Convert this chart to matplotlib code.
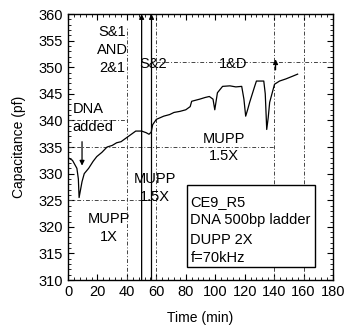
import matplotlib
matplotlib.use("Agg")
import matplotlib.pyplot as plt
from matplotlib.patches import Rectangle
from matplotlib.ticker import MultipleLocator

plt.rcParams['font.family'] = ['Liberation Sans', 'DejaVu Sans']

time_min = [0, 3, 6, 7, 7.5, 8.5, 9.5, 11, 14, 17, 19.5, 23, 26.5, 30, 33, 36, 40,
            43, 46, 50, 53, 55, 56.5, 57.5, 60, 65, 69, 72, 76, 80, 83, 84, 89.5,
            93, 96, 98.5, 99.7, 101.5, 105, 110, 114, 118, 119.5, 120.7, 122,
            123.4, 126.8, 128, 133, 134, 135, 136, 137, 140.3, 143.7, 148, 152.5, 156]
capacitance = [333, 332.5, 331, 329, 325.5, 327, 328.5, 330, 331, 332.3, 333.2, 334,
               335, 335.3, 335.8, 336, 336.8, 337.4, 338, 338, 337.7, 337.4, 337.8,
               339.2, 340.2, 340.8, 341.1, 341.5, 341.7, 342, 342.6, 343.6, 344,
               344.3, 344.5, 344, 342, 345.2, 346.4, 346.5, 346.3, 346.4, 344, 340.8,
               342, 343.4, 346.4, 347.4, 347.4, 345, 338.3, 340.5, 343.4, 346.8,
               347.4, 347.8, 348.3, 348.7]

# reference (dash-dot) lines: (x0, x1, y) horizontal; (x, y0, y1) vertical
h_lines = [(0, 40, 340), (0, 140, 335), (0, 60, 325), (60, 180, 351)]
v_lines = [(40, 310, 357.5), (60, 310, 360), (140, 310, 360), (160, 310, 360)]

# event arrows: (x, y_from, y_to)
event_arrows = [(50, 310, 360), (56.7, 310, 360), (9.5, 336, 331.5), (141, 349.5, 351.5)]

labels = [
    (30, 357.9, "S&1\nAND\n2&1", 'center'),
    (57.5, 351.9, "S&2", 'center'),
    (112, 351.9, "1&D", 'center'),
    (3, 343.4, "DNA\nadded", 'left'),
    (106, 337.9, "MUPP\n1.5X", 'center'),
    (59, 330.3, "MUPP\n1.5X", 'center'),
    (28, 322.8, "MUPP\n1X", 'center'),
]
box_lines = ["CE9_R5", "DNA 500bp ladder", "DUPP 2X", "f=70kHz"]
box_line_y = [324.7, 321.2, 317.5, 314.2]

fig = plt.figure(figsize=(3.49, 3.26), dpi=100)
ax = fig.add_axes([0.195, 0.141, 0.759, 0.816])

for x0, x1, y in h_lines:
    ax.plot([x0, x1], [y, y], color='#444444', lw=0.7, ls=(0, (4, 2, 1, 2)))
for x, y0, y1 in v_lines:
    ax.plot([x, x], [y0, y1], color='#444444', lw=0.7, ls=(0, (4, 2, 1, 2)))

ax.plot(time_min, capacitance, color='black', lw=0.9)

for x, y0, y1 in event_arrows:
    ax.annotate('', xy=(x, y1), xytext=(x, y0),
                arrowprops=dict(arrowstyle='-|>', color='black', lw=0.9,
                                mutation_scale=7, shrinkA=0, shrinkB=0))

for x, y, s, ha in labels:
    ax.text(x, y, s, ha=ha, va='top', fontsize=10.5, linespacing=1.35)

ax.add_patch(Rectangle((81, 312.5), 87, 15.4, fc='white', ec='black', lw=1.0, zorder=3))
for s, y in zip(box_lines, box_line_y):
    ax.text(83.2, y, s, ha='left', va='center', fontsize=10.5, zorder=4)

ax.set_xlim(0, 180)
ax.set_ylim(310, 360)
ax.xaxis.set_major_locator(MultipleLocator(20))
ax.xaxis.set_minor_locator(MultipleLocator(4))
ax.yaxis.set_major_locator(MultipleLocator(5))
ax.yaxis.set_minor_locator(MultipleLocator(1))
ax.tick_params(which='both', direction='in', top=True, right=True, labelsize=10.5)
ax.tick_params(which='major', length=4)
ax.tick_params(which='minor', length=2)
ax.set_xlabel("Time (min)", fontsize=10, labelpad=9)
ax.set_ylabel("Capacitance (pf)", fontsize=10, labelpad=9)
for sp in ax.spines.values():
    sp.set_linewidth(1.0)

fig.savefig("out.png", dpi=100)
